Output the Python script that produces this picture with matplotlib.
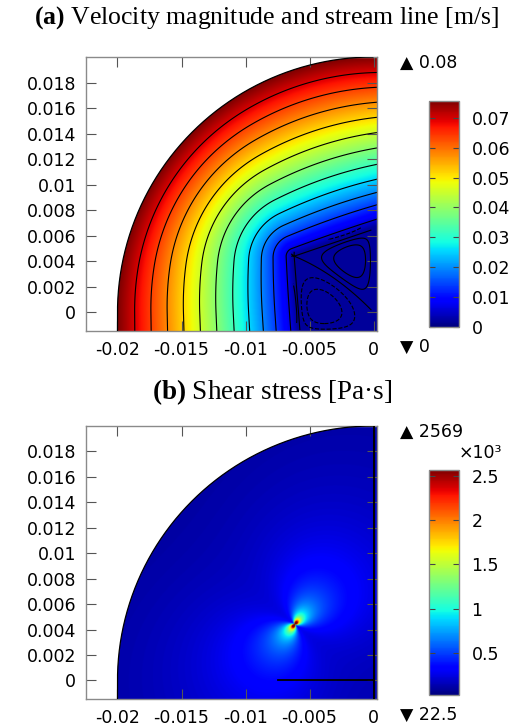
import numpy as np
import matplotlib
matplotlib.use("Agg")
import matplotlib.pyplot as plt
from matplotlib.path import Path
from matplotlib.patches import PathPatch

plt.rcParams['font.family'] = ['DejaVu Sans']
plt.rcParams['axes.unicode_minus'] = False
plt.rcParams['mathtext.fontset'] = 'custom'
plt.rcParams['mathtext.rm'] = 'Liberation Serif'
plt.rcParams['mathtext.bf'] = 'Liberation Serif:bold'

# ---------------- data ----------------
panel_tags = ["(a)", "(b)"]
panel_titles = ["Velocity magnitude and stream line [m/s]", "Shear stress [Pa·s]"]
x_ticks = [-0.02, -0.015, -0.01, -0.005, 0]
y_ticks = [0, 0.002, 0.004, 0.006, 0.008, 0.01, 0.012, 0.014, 0.016, 0.018]

# geometry (m)
R_OUT = 0.02
Y_BOTTOM = -0.0016
CORNER = (-0.0062, 0.0044)       # tip of the recirculation zone / stress singularity
LEFT_SLOPE = 0.077
TOP_SLOPE = 0.34
PLATE_START = -0.0075            # horizontal boundary drawn in panel (b)

# velocity magnitude (m/s)
vel_max = 0.0756
vel_floor = 0.002
vel_exponent = 0.85
vel_cbar_ticks = [0, 0.01, 0.02, 0.03, 0.04, 0.05, 0.06, 0.07]
vel_range_labels = ["\u25B2 0.08", "\u25BC 0"]
stream_levels = [0.05, 0.13, 0.2, 0.275, 0.36, 0.455, 0.545, 0.635, 0.725, 0.815, 0.905]
vortex_fractions = [0.3, 0.65]

# shear stress (x10^3)
shear_min = 0.0225
shear_max = 2.569
shear_cbar_ticks = [0.5, 1, 1.5, 2, 2.5]
shear_range_labels = ["\u25B2 2569", "\u25BC 22.5"]
shear_far = 0.06
shear_near = 0.32
shear_decay = 0.0065
shear_tip = 0.0003
shear_lobe_angle = 50.0

# ---------------- layout helpers ----------------
W, H = 515, 727
def fx(px):
    return px / W
def fy(py):
    return 1 - py / H

fig = plt.figure(figsize=(W / 100, H / 100), dpi=100)

XLIM = (-0.02246, 0.00027)
YLIM = (-0.00146, 0.0200)

# grid
x = np.linspace(-0.0206, 0.0006, 800)
y = np.linspace(-0.0021, 0.0206, 800)
X, Y = np.meshgrid(x, y)
cx, cy = CORNER

# distance to the (convex) low-speed region bounded by a left edge and a top edge through CORNER
n1 = np.array([-1.0, -LEFT_SLOPE]); n1 /= np.linalg.norm(n1)
n2 = np.array([-TOP_SLOPE, 1.0]); n2 /= np.linalg.norm(n2)
PX, PY = X - cx, Y - cy
a1 = n1[0] * PX + n1[1] * PY
a2 = n2[0] * PX + n2[1] * PY
M = np.array([[n1[0], n2[0]], [n1[1], n2[1]]])
Minv = np.linalg.inv(M)
alpha = Minv[0, 0] * PX + Minv[0, 1] * PY
beta = Minv[1, 0] * PX + Minv[1, 1] * PY
d = np.where((alpha >= 0) & (beta >= 0), np.hypot(PX, PY), np.maximum(np.maximum(a1, a2), 0))

r = np.hypot(X, Y)
g = np.where(Y >= 0, R_OUT - r, R_OUT - np.abs(X))
g = np.maximum(g, 1e-7)
S = d / (d + g)
speed = np.maximum(vel_max * S ** vel_exponent, vel_floor)

# recirculation stream function
xl = cx + LEFT_SLOPE * (cy - np.minimum(Y, cy))
yt = cy + TOP_SLOPE * (np.maximum(X, cx) - cx)
xi = (X - xl) / (0 - xl)
eta = (Y - Y_BOTTOM) / (yt - Y_BOTTOM)
yt0 = cy + TOP_SLOPE * (0 - cx)
k = 1 - (0 - Y_BOTTOM) / (yt0 - Y_BOTTOM)
psi = xi * (1 - xi) * eta * (1 - eta) * (eta - 1 + k * xi)
inside = (xi >= 0) & (xi <= 1) & (eta >= 0) & (eta <= 1)
m1 = psi[inside].max()
m2 = -psi[inside].min()
psi_m = np.where((xi < -0.04) | (xi > 0.975) | (eta < 0.03) | (eta > 1.06), np.nan, psi)
vortex_levels = sorted([-f * m2 for f in vortex_fractions] + [0.0] + [f * m1 for f in vortex_fractions])

# shear stress field
rho = np.hypot(X - cx, Y - cy) + 1e-6
theta = np.arctan2(Y - cy, X - cx)
ang = np.cos(2 * (theta - np.deg2rad(shear_lobe_angle)))
base = shear_far + shear_near * np.exp(-rho / shear_decay)
tau = base * (1 + 0.35 * ang * np.exp(-rho / 0.006)) + shear_tip / rho * (1 + 0.9 * ang)
tau = np.clip(tau, shear_min, shear_max)

# domain path
arc_t = np.linspace(np.pi, np.pi / 2, 200)
arc = np.column_stack([R_OUT * np.cos(arc_t), R_OUT * np.sin(arc_t)])
dom_verts = np.vstack([[[XLIM[1], Y_BOTTOM], [-R_OUT, Y_BOTTOM], [-R_OUT, 0]], arc,
                       [[XLIM[1], R_OUT], [XLIM[1], Y_BOTTOM]]])
dom_path = Path(dom_verts, closed=True)
out_verts = np.vstack([[[-R_OUT, Y_BOTTOM], [-R_OUT, 0]], arc])
out_path = Path(out_verts)


def setup_axes(ax):
    ax.set_xlim(*XLIM)
    ax.set_ylim(*YLIM)
    ax.set_xticks(x_ticks)
    ax.set_yticks(y_ticks)
    ax.set_xticklabels(["%g" % v for v in x_ticks])
    ax.set_yticklabels(["%g" % v for v in y_ticks])
    ax.tick_params(direction='in', length=7.5, width=0.8, color='#555555',
                   top=True, right=True, labelsize=12.5, pad=7)
    for sp in ax.spines.values():
        sp.set_color('#8a8a8a')
        sp.set_linewidth(1.0)


def draw_field(ax, field, vmin, vmax):
    im = ax.imshow(field, extent=[x[0], x[-1], y[0], y[-1]], origin='lower',
                   cmap='jet', vmin=vmin, vmax=vmax, interpolation='bilinear',
                   aspect='auto', zorder=1)
    patch = PathPatch(dom_path, transform=ax.transData, fc='none', ec='none')
    ax.add_patch(patch)
    im.set_clip_path(patch)
    ax.add_patch(PathPatch(out_path, fill=False, ec='k', lw=0.9, zorder=3))
    return im, patch


def colorbar(im, rect, ticks, fmt):
    cax = fig.add_axes(rect)
    cb = fig.colorbar(im, cax=cax)
    cb.set_ticks(ticks)
    cb.set_ticklabels([fmt % t for t in ticks])
    cb.outline.set_edgecolor('#8a8a8a')
    cb.outline.set_linewidth(1.0)
    cax.tick_params(direction='in', length=4, width=0.8, color='#444444',
                    left=True, right=True, labelsize=12.5, pad=9)
    return cb


# ---------------- panel (a) ----------------
ax1 = fig.add_axes([fx(86), fy(331), fx(291), 274 / H])
setup_axes(ax1)
im1, patch1 = draw_field(ax1, speed, 0, vel_max)
cs = ax1.contour(X, Y, S, levels=stream_levels, colors='k', linewidths=0.8, zorder=2)
cs.set_clip_path(patch1)
cs2 = ax1.contour(X, Y, psi_m, levels=vortex_levels, colors='k', linewidths=0.8, zorder=2)
cs2.set_clip_path(patch1)
colorbar(im1, [fx(429), fy(327), fx(30), 226 / H], vel_cbar_ticks, "%g")

fig.text(fx(266), fy(18), r"$\mathbf{%s}$ %s" % (panel_tags[0], panel_titles[0]),
         ha='center', va='center', fontsize=18.5, family='Liberation Serif')
fig.text(fx(400), fy(63), vel_range_labels[0], ha='left', va='center', fontsize=12.5)
fig.text(fx(400), fy(347), vel_range_labels[1], ha='left', va='center', fontsize=12.5)

# ---------------- panel (b) ----------------
ax2 = fig.add_axes([fx(86), fy(699), fx(291), 273 / H])
setup_axes(ax2)
im2, patch2 = draw_field(ax2, tau, shear_min, shear_max)
ax2.plot([0, 0], [Y_BOTTOM, R_OUT], color='k', lw=1.4, zorder=3, clip_on=True)
ax2.plot([PLATE_START, 0], [0, 0], color='k', lw=1.3, zorder=3)
colorbar(im2, [fx(429), fy(695), fx(30), 225 / H], shear_cbar_ticks, "%g")

fig.text(fx(272), fy(392), r"$\mathbf{%s}$ %s" % (panel_tags[1], panel_titles[1]),
         ha='center', va='center', fontsize=19.5, family='Liberation Serif')
fig.text(fx(400), fy(432), shear_range_labels[0], ha='left', va='center', fontsize=12.5)
fig.text(fx(502), fy(453), "\u00D710\u00B3", ha='right', va='center', fontsize=12.5)
fig.text(fx(400), fy(715), shear_range_labels[1], ha='left', va='center', fontsize=12.5)

fig.savefig("out.png", dpi=100)
